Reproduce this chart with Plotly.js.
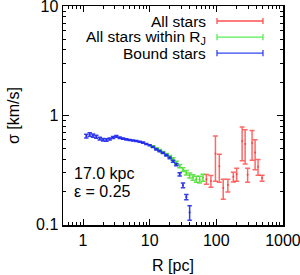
<!DOCTYPE html>
<html><head><meta charset="utf-8">
<script src="https://cdn.plot.ly/plotly-3.0.1.min.js"></script>
<style>body{margin:0;padding:0;background:#fff}#c{width:300px;height:275px}</style>
</head><body><div id="c"></div>
<script>
// All stars (red)
const redR   = [71, 83, 97, 111, 127, 149, 180, 202, 244, 271, 295, 344, 382, 423, 486];
const redS   = [0.262, 0.252, 0.45, 0.344, 0.217, 0.231, 0.275, 0.29, 0.586, 0.55, 0.288, 0.56, 0.46, 0.34, 0.268];
const redE   = [0.027, 0.031, 0.20, 0.098, 0.045, 0.031, 0.028, 0.04, 0.20, 0.19, 0.042, 0.17, 0.14, 0.056, 0.017];
// All stars within R_J (green)
const greenR = [11.2, 12.6, 14.1, 15.8, 17.8, 20.0, 22.4, 25.1, 28.2, 31.6, 35.5, 39.8, 44.7, 50.1, 56.2, 63.1];
const greenS = [0.52, 0.50, 0.48, 0.46, 0.44, 0.42, 0.40, 0.37, 0.345, 0.32, 0.30, 0.283, 0.272, 0.262, 0.26, 0.27];
const greenE = [0.008, 0.008, 0.008, 0.009, 0.009, 0.01, 0.01, 0.011, 0.012, 0.013, 0.014, 0.015, 0.016, 0.017, 0.018, 0.02];
// Bound stars (blue)
const blueR  = [1.12, 1.26, 1.41, 1.58, 1.78, 2.0, 2.24, 2.51, 2.82, 3.16, 3.55, 3.98, 4.47, 5.01, 5.62, 6.31, 7.08, 7.94, 8.91, 10.0, 11.2, 12.6, 14.1, 15.8, 17.8, 20.0, 22.4, 25.1, 28.2, 31.6, 35.5, 39.8];
const blueS  = [0.648, 0.672, 0.655, 0.64, 0.614, 0.60, 0.597, 0.61, 0.63, 0.645, 0.627, 0.615, 0.605, 0.597, 0.59, 0.584, 0.575, 0.565, 0.55, 0.535, 0.515, 0.49, 0.472, 0.455, 0.434, 0.41, 0.382, 0.356, 0.29, 0.23, 0.18, 0.13];
const blueE  = [0.025, 0.025, 0.022, 0.02, 0.018, 0.016, 0.015, 0.014, 0.013, 0.012, 0.01, 0.009, 0.008, 0.007, 0.006, 0.006, 0.006, 0.006, 0.006, 0.006, 0.006, 0.006, 0.006, 0.006, 0.007, 0.007, 0.008, 0.008, 0.01, 0.012, 0.01, 0.02];
const xTicks = [1, 10, 100, 1000];
const yTicks = [0.1, 1, 10];
const legendNames = ['All stars', 'All stars within R<sub>J</sub>', 'Bound stars'];
const colors = ['rgba(255,40,40,0.7)', 'rgba(60,220,30,0.8)', 'rgba(30,40,235,0.9)'];
const legendColors = ['#ff5050', '#55ee55', '#3344ee'];

function tr(x, y, e, c, w){
  return {x:x, y:y, type:'scatter', mode:'markers',
    marker:{size:2, color:c},
    error_y:{type:'data', array:e, visible:true, color:c, thickness:1.5, width:w},
    showlegend:false, hoverinfo:'none'};
}
const data = [tr(redR, redS, redE, colors[0], 2.5), tr(greenR, greenS, greenE, colors[1], 2.5), tr(blueR, blueS, blueE, colors[2], 2.2)];

const font = {family:'Liberation Sans, Arial, sans-serif', size:16, color:'#000'};
const legFont = {family:'Liberation Sans, Arial, sans-serif', size:15.5, color:'#000'};
const shapes = [], annotations = [];
const rowY = [0.9315, 0.858, 0.785];
const x0 = 0.70, x1 = 0.909, capH = 0.014;
for (let i=0;i<3;i++){
  const y = rowY[i];
  shapes.push({type:'line', xref:'paper', yref:'paper', x0:x0, x1:x1, y0:y, y1:y, line:{color:legendColors[i], width:1.3}});
  shapes.push({type:'line', xref:'paper', yref:'paper', x0:x0, x1:x0, y0:y-capH, y1:y+capH, line:{color:legendColors[i], width:1.3}});
  shapes.push({type:'line', xref:'paper', yref:'paper', x0:x1, x1:x1, y0:y-capH, y1:y+capH, line:{color:legendColors[i], width:1.3}});
  annotations.push({xref:'paper', yref:'paper', x:0.6545, y:y, xanchor:'right', yanchor:'middle', text:legendNames[i], showarrow:false, font:legFont, borderpad:0});
}
annotations.push({xref:'paper', yref:'paper', x:0.04, y:0.237, xanchor:'left', yanchor:'middle', text:'17.0 kpc', showarrow:false, font:font});
annotations.push({xref:'paper', yref:'paper', x:0.04, y:0.151, xanchor:'left', yanchor:'middle', text:'ε = 0.25', showarrow:false, font:font});

const layout = {
  width:300, height:275, margin:{l:63, r:17, t:6, b:50},
  paper_bgcolor:'#fff', plot_bgcolor:'#fff', font:font,
  shapes:shapes, annotations:annotations,
  xaxis:{type:'log', range:[Math.log10(0.5), 3.001], tickvals:xTicks, ticktext:xTicks.map(String),
    ticks:'inside', ticklen:6, tickwidth:1, tickcolor:'#000', mirror:'allticks', showline:true, linecolor:'#000', linewidth:1.5,
    showgrid:false, zeroline:false, tickfont:font, ticklabeloverflow:'allow',
    minor:{ticks:'inside', ticklen:3, tickcolor:'#000', tickwidth:1, dtick:'D1', showgrid:false},
    title:{text:'R [pc]', font:font, standoff:12}},
  yaxis:{type:'log', range:[-1.001, 1.001], tickvals:yTicks, ticktext:yTicks.map(String),
    ticks:'inside', ticklen:6, tickwidth:1, tickcolor:'#000', mirror:'allticks', showline:true, linecolor:'#000', linewidth:1.5,
    showgrid:false, zeroline:false, tickfont:font, ticklabeloverflow:'allow',
    minor:{ticks:'inside', ticklen:3, tickcolor:'#000', tickwidth:1, dtick:'D1', showgrid:false},
    title:{text:'σ [km/s]', font:font, standoff:12}}
};
Plotly.newPlot('c', data, layout, {staticPlot:true, displayModeBar:false});
</script></body></html>
